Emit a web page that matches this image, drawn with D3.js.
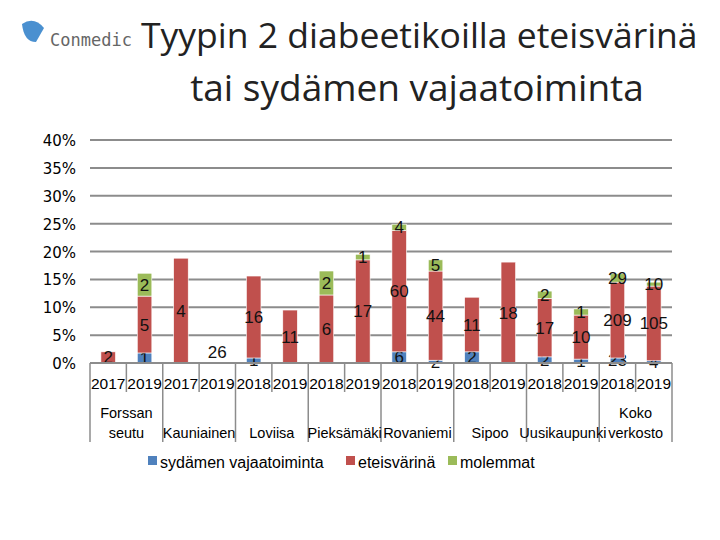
<!DOCTYPE html>
<html><head><meta charset="utf-8">
<script src="https://cdn.jsdelivr.net/npm/d3@7"></script>
<style>body{margin:0;background:#fff;} text{font-family:"Liberation Sans Narrow","Liberation Sans",Arial,sans-serif;}</style>
</head><body><div id="chart"></div>
<script>
// data
const groups = ["Forssan seutu","Kauniainen","Loviisa","Pieksämäki","Rovaniemi","Sipoo","Uusikaupunki","Koko verkosto"];
const years = ["2017","2019","2017","2019","2018","2019","2018","2019","2018","2019","2018","2019","2018","2019","2018","2019"];
const seriesNames = ["sydämen vajaatoiminta","eteisvärinä","molemmat"];
const blueVals  = [0,1.8,0,0,0.9,0,0,0,2.0,0.5,2.0,0,1.1,0.7,0.9,0.4];
const redVals   = [2.0,10.2,18.8,0,14.7,9.5,12.2,18.5,21.8,16.0,9.8,18.1,10.5,7.9,13.6,13.4];
const greenVals = [0,4.1,0,0,0,0,4.3,1.0,1.1,2.0,0,0,1.3,1.1,1.5,0.7];
const blueLabels  = ["","1","","","1","","","","6","2","2","","2","1","23","4"];
const redLabels   = ["2","5","4","26","16","11","6","17","60","44","11","18","17","10","209","105"];
const greenLabels = ["","2","","","","","2","1","4","5","","","2","1","29","10"];
const yTicks = [0,5,10,15,20,25,30,35,40];

const colors = ["#4f81bd","#c0504d","#9bbb59"];
const W = 720, H = 540;
const svg = d3.select("#chart").append("svg").attr("width", W).attr("height", H);

// logo
svg.append("path").attr("d","M22,24 q12,-8 22,4 l-8,14 q-12,0 -14,-18z").attr("fill","#4a90d0");
svg.append("text").attr("x",50).attr("y",46).attr("font-size",17).attr("fill","#666")
  .style("font-family","'DejaVu Sans Mono',monospace").text("Conmedic");

// title
svg.append("text").attr("x",141).attr("y",48).attr("font-size",35.5)
  .style("font-family","'Open Sans',sans-serif").attr("fill","#222").text("Tyypin 2 diabeetikoilla eteisvärinä");
svg.append("text").attr("x",417).attr("y",101).attr("text-anchor","middle").attr("font-size",37)
  .style("font-family","'Open Sans',sans-serif").attr("fill","#222").text("tai sydämen vajaatoiminta");

const x0 = 90, x1 = 672;
const x = d3.scaleBand().domain(d3.range(years.length)).range([x0, x1]).paddingInner(0).paddingOuter(0);
const y = d3.scaleLinear().domain([0,40]).range([363,140]);

// gridlines
svg.selectAll(".grid").data(yTicks).enter().append("line")
  .attr("x1",x0).attr("x2",x1).attr("y1",d=>y(d)).attr("y2",d=>y(d))
  .attr("stroke","#8c8c8c").attr("stroke-width",2);
svg.selectAll(".yl").data(yTicks).enter().append("text")
  .attr("x",76).attr("y",d=>y(d)+6).attr("text-anchor","end")
  .style("font-family","'DejaVu Sans',sans-serif").style("font-size","15px")
  .text(d=>d+"%");

// stacks
const rows = years.map((yr,i)=>({i, b:blueVals[i], r:redVals[i], g:greenVals[i]}));
const stack = d3.stack().keys(["b","r","g"])(rows);
const labels = [blueLabels, redLabels, greenLabels];
const bw = x.bandwidth()*0.4;
stack.forEach((layer,k)=>{
  svg.selectAll(".s"+k).data(layer).enter().append("rect")
    .attr("x",(d,i)=>x(i)+(x.bandwidth()-bw)/2).attr("width",bw)
    .attr("y",d=>y(d[1])).attr("height",d=>y(d[0])-y(d[1]))
    .attr("fill",colors[k]).attr("stroke","#fff").attr("stroke-width",0.6);
  svg.selectAll(".l"+k).data(layer).enter().append("text")
    .attr("x",(d,i)=>x(i)+x.bandwidth()/2)
    .attr("y",(d,i)=>{ const c=(y(d[0])+y(d[1]))/2; return (d[1]-d[0]<0.01 ? y(0)-11 : c)+6; })
    .attr("text-anchor","middle").attr("font-size",17).attr("fill","#111")
    .text((d,i)=>labels[k][i]);
});

// category axis
svg.append("line").attr("x1",x0).attr("x2",x1).attr("y1",y(0)).attr("y2",y(0)).attr("stroke","#8c8c8c").attr("stroke-width",2);
d3.range(years.length+1).forEach(i=>{
  const xx = i<years.length ? x(i) : x1;
  svg.append("line").attr("x1",xx).attr("x2",xx).attr("y1",y(0)).attr("y2", i%2===0 ? 442 : 392)
    .attr("stroke","#8c8c8c").attr("stroke-width",1.5);
});
svg.selectAll(".yr").data(years).enter().append("text")
  .attr("x",(d,i)=>x(i)+x.bandwidth()/2).attr("y",389).attr("text-anchor","middle").attr("font-size",15.5).text(d=>d);
groups.forEach((g,j)=>{
  const cx = x(j*2)+x.bandwidth();
  const parts = g==="Forssan seutu" ? ["Forssan","seutu"] : g==="Koko verkosto" ? ["Koko","verkosto"] : [g];
  parts.forEach((p,k)=>svg.append("text").attr("x",cx).attr("y",parts.length===2 ? 418+k*20 : 438)
    .attr("text-anchor","middle").attr("font-size",14.5).text(p));
});

// legend
const lx = [148,346,448];
seriesNames.forEach((n,k)=>{
  svg.append("rect").attr("x",lx[k]).attr("y",456).attr("width",9).attr("height",9).attr("fill",colors[k]);
  svg.append("text").attr("x",lx[k]+12).attr("y",468).attr("font-size",16).text(n);
});
</script></body></html>
